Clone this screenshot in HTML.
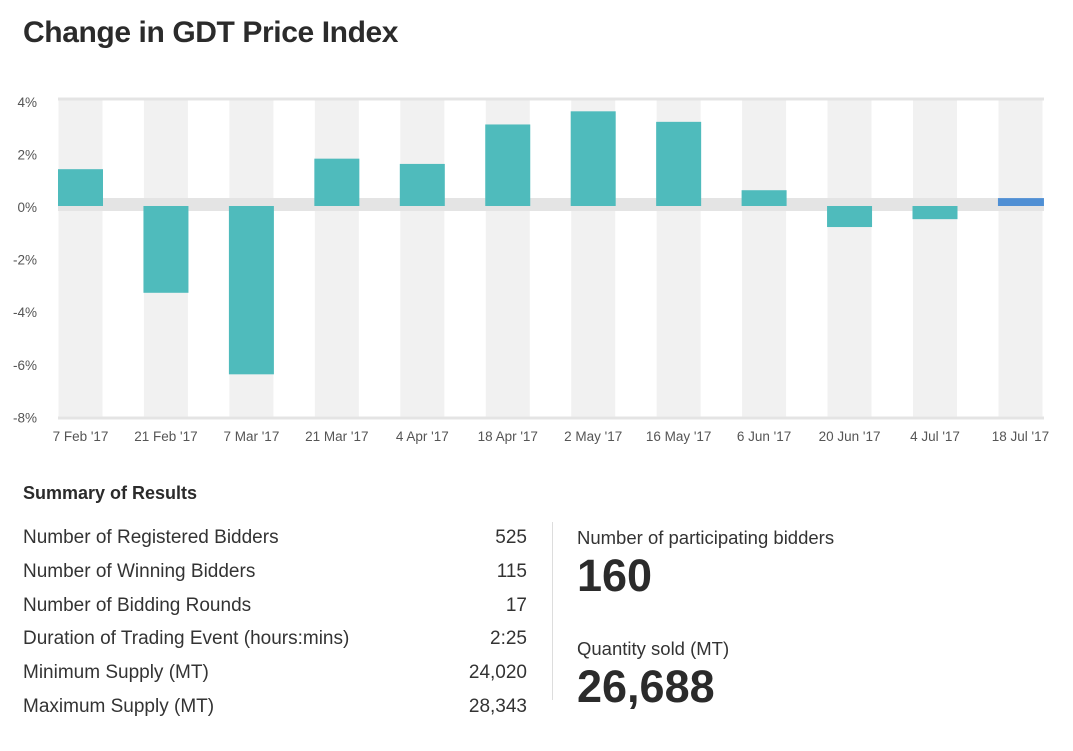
<!DOCTYPE html>
<html><head><meta charset="utf-8"><style>
body{margin:0;width:1073px;height:751px;background:#fff;font-family:"Liberation Sans",sans-serif;color:#333;position:relative;overflow:hidden}
.abs{position:absolute}
h1{position:absolute;left:23px;top:16px;margin:0;font-size:30px;font-weight:bold;color:#2b2b2b;letter-spacing:-0.4px}
.row{position:absolute;left:23px;width:504px;font-size:19px;color:#333}
.row span{position:absolute;right:0}
</style></head><body>
<h1>Change in GDT Price Index</h1>
<svg class="abs" style="left:0;top:0" width="1073" height="460">
<g id="g"></g>
</svg>
<div class="abs" style="left:23px;top:483px;font-size:18px;font-weight:bold;color:#2b2b2b">Summary of Results</div>
<div class="row" style="top:527px">Number of Registered Bidders<span>525</span></div>
<div class="row" style="top:561px">Number of Winning Bidders<span>115</span></div>
<div class="row" style="top:595px">Number of Bidding Rounds<span>17</span></div>
<div class="row" style="top:628px">Duration of Trading Event (hours:mins)<span>2:25</span></div>
<div class="row" style="top:662px">Minimum Supply (MT)<span>24,020</span></div>
<div class="row" style="top:696px">Maximum Supply (MT)<span>28,343</span></div>
<div class="abs" style="left:552px;top:522px;width:1px;height:178px;background:#ddd"></div>
<div class="abs" style="left:577px;top:527px;font-size:18.5px">Number of participating bidders</div>
<div class="abs" style="left:577px;top:550px;font-size:45px;font-weight:bold;color:#2b2b2b">160</div>
<div class="abs" style="left:577px;top:638px;font-size:18.5px">Quantity sold (MT)</div>
<div class="abs" style="left:577px;top:661px;font-size:45px;font-weight:bold;color:#2b2b2b">26,688</div>
<script>
const categories=["7 Feb '17","21 Feb '17","7 Mar '17","21 Mar '17","4 Apr '17","18 Apr '17","2 May '17","16 May '17","6 Jun '17","20 Jun '17","4 Jul '17","18 Jul '17"];
const values=[1.4,-3.3,-6.4,1.8,1.6,3.1,3.6,3.2,0.6,-0.8,-0.5,0.3];
const yTicks=[4,2,0,-2,-4,-6,-8];
const ns="http://www.w3.org/2000/svg",g=document.getElementById('g');
const y=v=>206-26.3*v;
const x=i=>80.5+i*85.45;
function mk(t,a){const e=document.createElementNS(ns,t);for(const k in a)e.setAttribute(k,a[k]);g.appendChild(e);return e;}
categories.forEach((c,i)=>{
 const s=mk('rect',{x:x(i)-22,y:y(4)-1,width:44,height:y(-8)-y(4)+1,fill:'#f1f1f1'});
 
 
});
const band=mk('rect',{x:58,y:198,width:986,height:13,fill:'#e4e4e4'});


const tl=mk('rect',{x:58,y:97.5,width:986,height:3,fill:'#e4e4e4'});


const bl=mk('rect',{x:58,y:416.5,width:986,height:3,fill:'#e4e4e4'});


values.forEach((v,i)=>{
 const last=i===values.length-1;
 const y0=Math.min(y(v),y(0)),h=Math.max(Math.abs(y(v)-y(0)),1);
 const b=mk('rect',{x:x(i)-22.5,y:y0,width:last?46:45,height:h,fill:last?'#4f8fd4':'#4fbbbc'});
 
 
 const t=mk('text',{x:x(i),y:441,'text-anchor':'middle','font-size':13.5,fill:'#555'});
 t.textContent=categories[i];
 
 
});
yTicks.forEach(v=>{
 const t=mk('text',{x:37,y:y(v)+6,'text-anchor':'end','font-size':13.5,fill:'#555'});
 t.textContent=v+'%';
 
 
});
</script>
</body></html>
